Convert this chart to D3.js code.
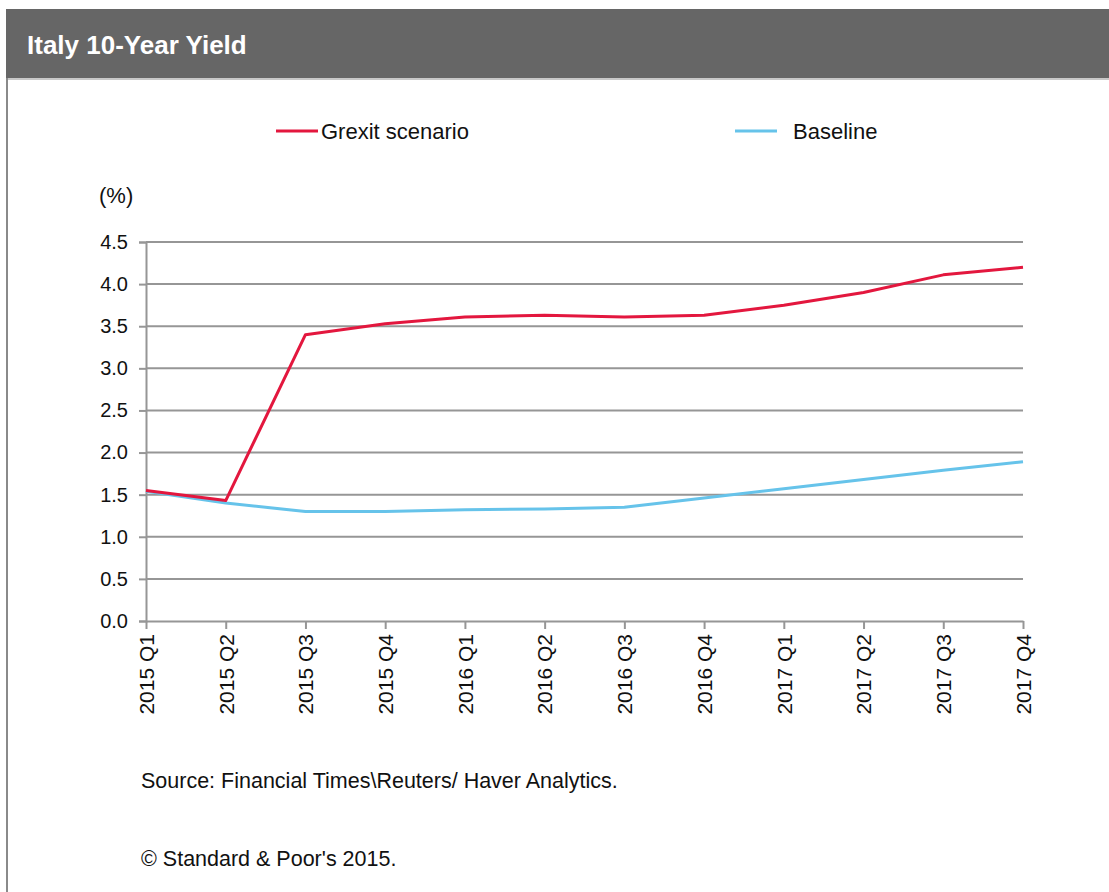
<!DOCTYPE html>
<html lang="en">
    <head>
        <meta charset="utf-8">
        <title>Italy 10-Year Yield</title>
        <script type="text/javascript" src="https://d3js.org/d3.v7.min.js"></script>
        <style type="text/css">
          body { margin: 0; background: #fff; }
          text { font-family: "Liberation Sans", Arial, sans-serif; }
        </style>
    </head>
    <body>
        <script type="text/javascript">
        var w = 1109;
        var h = 892;

        // data
        var quarters = ['2015 Q1', '2015 Q2', '2015 Q3', '2015 Q4',
                        '2016 Q1', '2016 Q2', '2016 Q3', '2016 Q4',
                        '2017 Q1', '2017 Q2', '2017 Q3', '2017 Q4'];
        var grexit = [1.55, 1.43, 3.40, 3.53, 3.61, 3.63, 3.61, 3.63, 3.75, 3.90, 4.11, 4.20];
        var baseline = [1.54, 1.40, 1.30, 1.30, 1.32, 1.33, 1.35, 1.46, 1.57, 1.68, 1.79, 1.89];
        var yTicks = [0, 0.5, 1, 1.5, 2, 2.5, 3, 3.5, 4, 4.5];

        var redCol = "#e3173e";
        var blueCol = "#66c3ea";
        var gridCol = "#969696";

        var plot = {left: 146, right: 1023, top: 242, bottom: 621};

        var svg = d3.select("body").append("svg")
                    .attr("width", w)
                    .attr("height", h);

        // header bar
        svg.append("rect")
            .attr("x", 6).attr("y", 9)
            .attr("width", w - 6).attr("height", 69)
            .attr("fill", "#666666");
        svg.append("line")
            .attr("x1", 6).attr("x2", w)
            .attr("y1", 79).attr("y2", 79)
            .attr("stroke", "#c8c8c8").attr("stroke-width", 2);
        svg.append("line")
            .attr("x1", 7).attr("x2", 7)
            .attr("y1", 78).attr("y2", h)
            .attr("stroke", "#8a8a8a").attr("stroke-width", 2);
        svg.append("text")
            .attr("x", 27).attr("y", 54)
            .attr("fill", "#fff")
            .attr("font-weight", "bold")
            .attr("font-size", "26px")
            .text("Italy 10-Year Yield");

        var x = d3.scalePoint()
            .domain(quarters)
            .range([plot.left, plot.right]);

        var y = d3.scaleLinear()
            .domain([0, 4.5])
            .range([plot.bottom, plot.top]);

        // gridlines
        svg.append("g")
            .selectAll("line")
            .data(yTicks.filter(function(d){ return d > 0; }))
            .join("line")
              .attr("x1", plot.left).attr("x2", plot.right)
              .attr("y1", function(d){ return y(d); })
              .attr("y2", function(d){ return y(d); })
              .attr("stroke", gridCol)
              .attr("stroke-width", 2);

        // y axis
        var gy = svg.append("g")
            .attr("transform", "translate(" + plot.left + ",0)")
            .call(d3.axisLeft(y).tickValues(yTicks).tickFormat(d3.format(".1f")).tickSize(7).tickPadding(11));
        gy.select(".domain").attr("stroke", gridCol).attr("stroke-width", 2);
        gy.selectAll(".tick line").attr("stroke", gridCol).attr("stroke-width", 2);
        gy.selectAll(".tick text")
            .attr("font-size", "20px")
            .attr("font-family", "'Liberation Sans', Arial, sans-serif")
            .attr("fill", "#111");

        // x axis
        var gx = svg.append("g")
            .attr("transform", "translate(0," + plot.bottom + ")")
            .call(d3.axisBottom(x).tickSize(8).tickSizeOuter(0));
        gx.select(".domain").attr("stroke", gridCol).attr("stroke-width", 2);
        gx.selectAll(".tick line").attr("stroke", gridCol).attr("stroke-width", 2);
        gx.selectAll(".tick text")
            .attr("font-size", "21px")
            .attr("font-family", "'Liberation Sans', Arial, sans-serif")
            .attr("fill", "#111")
            .attr("transform", "rotate(-90)")
            .attr("text-anchor", "end")
            .attr("x", -13)
            .attr("y", 0)
            .attr("dy", "0.35em");

        svg.append("text")
            .attr("x", 99).attr("y", 203)
            .attr("font-size", "22px")
            .attr("fill", "#111")
            .text("(%)");

        var line = d3.line()
            .x(function(d, i){ return x(quarters[i]); })
            .y(function(d){ return y(d); });

        svg.append("path")
            .datum(baseline)
            .attr("fill", "none")
            .attr("stroke", blueCol)
            .attr("stroke-width", 3)
            .attr("stroke-linejoin", "round")
            .attr("d", line);

        svg.append("path")
            .datum(grexit)
            .attr("fill", "none")
            .attr("stroke", redCol)
            .attr("stroke-width", 3)
            .attr("stroke-linejoin", "round")
            .attr("d", line);

        // legend
        var legend = [[276, 'Grexit scenario', redCol], [735, 'Baseline', blueCol]];
        var lg = svg.selectAll(".legend")
            .data(legend)
            .join("g")
              .attr("class", "legend")
              .attr("transform", function(d){ return "translate(" + d[0] + ",131)"; });
        lg.append("line")
            .attr("x1", 0).attr("x2", 42)
            .attr("stroke", function(d){ return d[2]; })
            .attr("stroke-width", 3);
        lg.append("text")
            .attr("x", function(d, i){ return i === 0 ? 45 : 58; })
            .attr("dy", "0.35em")
            .attr("font-size", "22px")
            .attr("fill", "#111")
            .text(function(d){ return d[1]; });

        // footnotes
        svg.append("text")
            .attr("x", 141).attr("y", 788)
            .attr("font-size", "21.5px")
            .attr("fill", "#111")
            .text("Source: Financial Times\\Reuters/ Haver Analytics.");
        svg.append("text")
            .attr("x", 141).attr("y", 866)
            .attr("font-size", "21.5px")
            .attr("fill", "#111")
            .text("\u00a9 Standard & Poor's 2015.");
        </script>
    </body>
</html>
